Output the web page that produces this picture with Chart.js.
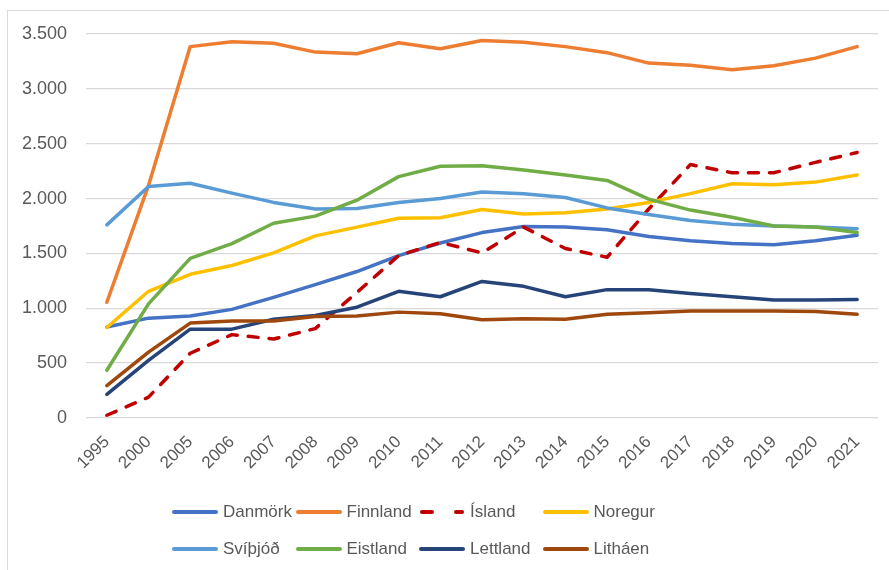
<!DOCTYPE html>
<html lang="is">
<head>
<meta charset="utf-8">
<script src="https://cdn.jsdelivr.net/npm/chart.js@4"></script>
<style>
    html, body { margin: 0; padding: 0; background: #fff; }
    #umgjord { position: relative; width: 889px; height: 570px; overflow: hidden; }
    #rammi {
        position: absolute; left: 7px; top: 10px; right: -10px; bottom: -10px;
        border-left: 1.5px solid #d9d9d9; border-top: 1.5px solid #d9d9d9;
    }
    #grafid { position: absolute; left: 0; top: 0; }
    #skyring {
        position: absolute; left: 172px; top: 499px;
        display: grid; grid-template-columns: repeat(4, 123.5px); row-gap: 11px;
        font-family: "Liberation Sans", Arial, sans-serif; font-size: 17px; color: #595959;
    }
    .atridi { display: flex; align-items: center; height: 26px; white-space: nowrap; }
    .atridi svg { margin-right: 5px; flex: none; }
</style>
</head>
<body>
<div id="umgjord">
    <div id="rammi"></div>
    <canvas id="grafid" width="889" height="570"></canvas>
    <div id="skyring"></div>
</div>
<script>
const ar = ['1995', '2000', '2005', '2006', '2007', '2008', '2009', '2010', '2011', '2012',
            '2013', '2014', '2015', '2016', '2017', '2018', '2019', '2020', '2021'];

const danmork  = [830, 910, 930, 990, 1100, 1215, 1335, 1480, 1595, 1690, 1745, 1740, 1715, 1655, 1615, 1590, 1580, 1615, 1665];
const finnland = [1055, 2120, 3385, 3430, 3415, 3335, 3320, 3420, 3365, 3440, 3425, 3385, 3330, 3235, 3215, 3175, 3210, 3280, 3385];
const island   = [25, 190, 590, 760, 720, 815, 1145, 1480, 1600, 1505, 1740, 1545, 1465, 1905, 2310, 2235, 2235, 2330, 2420];
const noregur  = [825, 1155, 1310, 1390, 1505, 1660, 1740, 1820, 1825, 1900, 1860, 1870, 1905, 1965, 2045, 2135, 2125, 2150, 2215];
const svithjod = [1760, 2110, 2140, 2050, 1965, 1905, 1910, 1965, 2000, 2060, 2045, 2010, 1915, 1855, 1800, 1765, 1750, 1740, 1725];
const eistland = [435, 1040, 1455, 1590, 1775, 1840, 1985, 2200, 2295, 2300, 2260, 2215, 2165, 1995, 1895, 1830, 1750, 1740, 1690];
const lettland = [215, 525, 810, 810, 900, 935, 1010, 1155, 1105, 1245, 1200, 1105, 1170, 1170, 1135, 1105, 1075, 1075, 1080];
const lithaen  = [295, 600, 865, 885, 885, 925, 930, 965, 950, 895, 905, 900, 945, 960, 975, 975, 975, 970, 945];

const lond   = ['Danmörk', 'Finnland', 'Ísland', 'Noregur', 'Svíþjóð', 'Eistland', 'Lettland', 'Litháen'];
const gildi  = [danmork, finnland, island, noregur, svithjod, eistland, lettland, lithaen];
const litir  = ['#4472C4', '#ED7D31', '#C00000', '#FFC000', '#5B9BD5', '#70AD47', '#264478', '#9E480E'];
const strikad = [false, false, true, false, false, false, false, false];

function snida(n) {
    return String(n).replace(/\B(?=(\d{3})+(?!\d))/g, '.');
}

const gagnasett = lond.map((nafn, i) => ({
    label: nafn,
    data: gildi[i],
    borderColor: litir[i],
    backgroundColor: litir[i],
    borderWidth: 3.5,
    borderDash: strikad[i] ? [10, 11] : [],
    borderCapStyle: 'round',
    borderJoinStyle: 'round',
    pointRadius: 0,
    tension: 0,
    order: lond.length - i
}));

const letur = "'Liberation Sans', Arial, sans-serif";

new Chart(document.getElementById('grafid'), {
    type: 'line',
    data: { labels: ar, datasets: gagnasett },
    options: {
        responsive: false,
        animation: false,
        layout: { padding: { left: 20, right: 11, top: 34, bottom: 0 } },
        plugins: {
            legend: { display: false },
            tooltip: { enabled: false }
        },
        scales: {
            x: {
                offset: true,
                grid: { display: false },
                border: { display: false },
                ticks: {
                    color: '#595959',
                    font: { family: letur, size: 17 },
                    maxRotation: 45,
                    minRotation: 45,
                    padding: 6,
                    autoSkip: false
                },
                afterFit: s => { s.height = 152; }
            },
            y: {
                min: 0,
                max: 3500,
                grid: { color: '#d9d9d9', lineWidth: 1.3, drawTicks: false },
                border: { display: false },
                ticks: {
                    stepSize: 500,
                    color: '#595959',
                    font: { family: letur, size: 18 },
                    padding: 19,
                    callback: v => snida(v)
                },
                afterFit: s => { s.width = 66; }
            }
        }
    }
});

// skýring í fjórum dálkum eins og í Excel
const skyring = document.getElementById('skyring');
lond.forEach((nafn, i) => {
    const d = document.createElement('div');
    d.className = 'atridi';
    const lina = strikad[i]
        ? '<line x1="3" y1="5" x2="43" y2="5" stroke="' + litir[i] + '" stroke-width="4" stroke-linecap="round" stroke-dasharray="10 24"/>'
        : '<line x1="2" y1="5" x2="44" y2="5" stroke="' + litir[i] + '" stroke-width="4" stroke-linecap="round"/>';
    d.innerHTML = '<svg width="46" height="10">' + lina + '</svg><span>' + nafn + '</span>';
    skyring.appendChild(d);
});
</script>
</body>
</html>
